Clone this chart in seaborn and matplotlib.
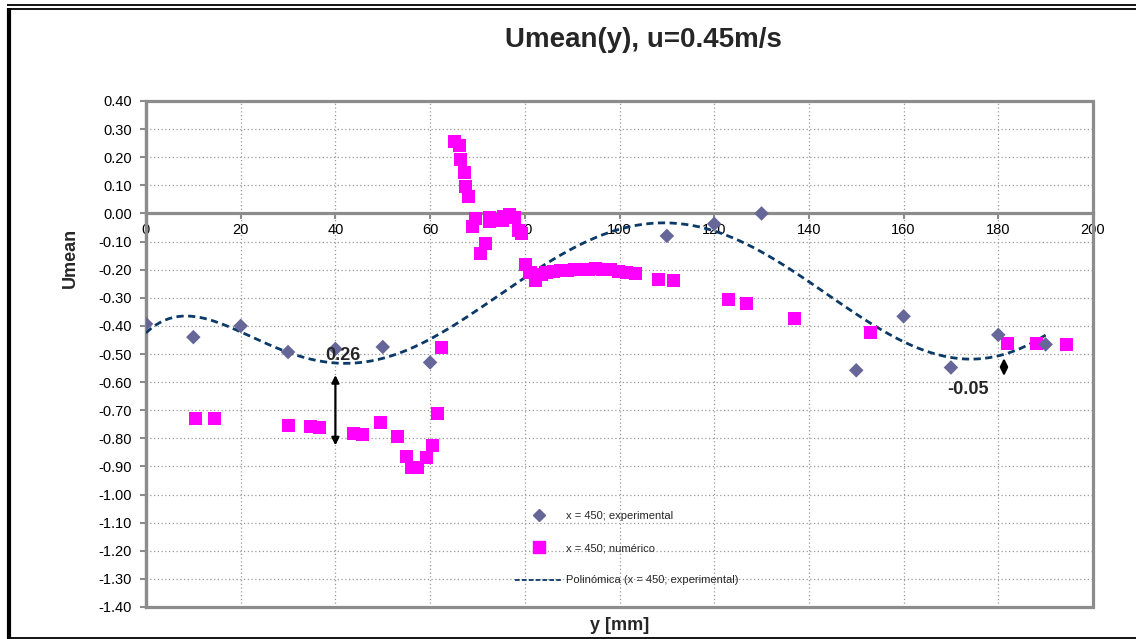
import numpy as np
import pandas as pd
import matplotlib
matplotlib.use("Agg")
import matplotlib.pyplot as plt
from matplotlib.lines import Line2D
from matplotlib.patches import Rectangle
import seaborn as sns

# Measured profile at x = 450
exp_y = [0, 10, 20, 30, 40, 50, 60, 110, 120, 130, 150, 160, 170, 180, 190]
exp_u = [-0.393, -0.44, -0.40, -0.493, -0.482, -0.475, -0.53, -0.08, -0.037, 0.0,
         -0.558, -0.366, -0.548, -0.432, -0.466]

# Simulated profile at x = 450
num_y = [10.4, 14.5, 30.1, 34.8, 36.7, 43.8, 45.8, 49.6, 53.1, 55.1, 56.1, 57.4,
         59.3, 60.5, 61.6, 62.4, 65.1, 66.2, 66.5, 67.2, 67.5, 68.1, 69.0, 69.5,
         70.7, 71.6, 72.5, 72.6, 74.0, 75.3, 75.5, 76.7, 77.9, 78.6, 79.3, 80.2,
         81.1, 82.2, 83.6, 84.6, 86.0, 87.5, 89.0, 90.5, 92.0, 93.5, 95.0, 96.5,
         98.0, 99.8, 101.5, 103.3, 108.3, 111.5, 123.0, 126.8, 137.0, 153.0,
         182.0, 188.0, 194.4]
num_u = [-0.730, -0.730, -0.755, -0.757, -0.762, -0.782, -0.785, -0.743, -0.794,
         -0.865, -0.905, -0.905, -0.868, -0.824, -0.711, -0.476, 0.256, 0.242,
         0.193, 0.145, 0.095, 0.062, -0.045, -0.017, -0.142, -0.106, -0.029,
         -0.014, -0.023, -0.025, -0.011, -0.005, -0.013, -0.059, -0.070, -0.183,
         -0.210, -0.237, -0.216, -0.210, -0.205, -0.202, -0.202, -0.201, -0.200,
         -0.198, -0.197, -0.198, -0.199, -0.205, -0.210, -0.215, -0.234, -0.240,
         -0.305, -0.322, -0.374, -0.424, -0.462, -0.462, -0.466]

x_ticks = list(range(0, 201, 20))
y_ticks = [round(v, 2) for v in np.arange(-1.4, 0.401, 0.1)]

lbl_exp = "x = 450; experimental"
lbl_num = "x = 450; numérico"
lbl_fit = "Polinómica (x = 450; experimental)"

# Gap annotations: (position, lower, upper, text, text_x, text_y)
gap1 = (40.0, -0.825, -0.575, "0.26", 41.5, -0.505)
gap2 = (181.2, -0.578, -0.515, "-0.05", 173.5, -0.625)

C_EXP = "#666699"
C_NUM = "#FF00FF"
C_FIT = "#0B3A68"
C_AX = "#8C8C8C"

sns.set_theme(style="white")
FONT = ["Liberation Sans Narrow", "Liberation Sans", "DejaVu Sans"]
plt.rcParams["font.family"] = FONT

W, H = 1136, 639
fig = plt.figure(figsize=(W / 100, H / 100), dpi=100)
L, R, T, B = 146, 1093, 101, 607
ax = fig.add_axes([L / W, 1 - B / H, (R - L) / W, (B - T) / H])

# 6th-order polynomial trend of the experimental data
coef = np.polyfit(exp_y, exp_u, 6)
fit_x = np.linspace(min(exp_y), max(exp_y), 400)
fit_df = pd.DataFrame({"y": fit_x, "u": np.polyval(coef, fit_x)})

sns.lineplot(data=fit_df, x="y", y="u", ax=ax, color=C_FIT, lw=2.0,
             linestyle=(0, (2.6, 1.6)), zorder=3)
sns.scatterplot(x=num_y, y=num_u, ax=ax, marker="s", color=C_NUM, s=88,
                edgecolor="none", zorder=4)
sns.scatterplot(x=exp_y, y=exp_u, ax=ax, marker="D", color=C_EXP, s=55,
                edgecolor="none", zorder=5)

ax.set_xlim(0, 200)
ax.set_ylim(-1.4, 0.4)
ax.set_xticks(x_ticks)
ax.set_yticks(y_ticks)
ax.set_yticklabels([f"{v:.2f}" for v in y_ticks])
ax.set_xticklabels([str(v) for v in x_ticks])

ax.grid(True, color="#9A9A9A", lw=0.9, linestyle=(0, (1, 2)))
ax.set_axisbelow(True)

# x axis crosses at zero
ax.spines["bottom"].set_position(("data", 0))
for s in ["bottom", "left"]:
    ax.spines[s].set_color(C_AX)
    ax.spines[s].set_linewidth(2.3)
    ax.spines[s].set_zorder(2)
for s in ["top", "right"]:
    ax.spines[s].set_visible(False)
ax.add_patch(Rectangle((0, 0), 1, 1, transform=ax.transAxes, fill=False,
                       ec=C_AX, lw=2.3, clip_on=False, zorder=2))

ax.tick_params(axis="both", which="both", direction="out", length=4,
               width=1.5, color=C_AX, labelsize=10.5, labelcolor="black")
ax.tick_params(axis="x", pad=3, bottom=True)
ax.tick_params(axis="y", pad=6, left=True)

ax.set_xlabel("")
ax.set_ylabel("")
fig.text(620 / W, 1 - 625 / H, "y [mm]", ha="center", va="center",
         fontsize=13, fontweight="bold")
fig.text(70 / W, 1 - 258 / H, "Umean", ha="center", va="center",
         rotation=90, fontsize=13, fontweight="bold")
fig.text(643 / W, 1 - 40 / H, "Umean(y), u=0.45m/s", ha="center",
         va="center", fontsize=20, fontweight="bold")

# gap arrows and labels
for xpos, lo, hi, txt, tx, ty in (gap1, gap2):
    ax.annotate("", xy=(xpos, lo), xytext=(xpos, hi),
                arrowprops=dict(arrowstyle="<|-|>", color="black", lw=1.6,
                                mutation_scale=11, shrinkA=0, shrinkB=0),
                zorder=6)
    ax.text(tx, ty, txt, ha="center", va="center", fontsize=13,
            fontweight="bold", zorder=7)

handles = [
    Line2D([], [], marker="D", color=C_EXP, linestyle="none", markersize=6),
    Line2D([], [], marker="s", color=C_NUM, linestyle="none", markersize=8),
    Line2D([], [], color=C_FIT, lw=1.3, linestyle=(0, (2.6, 1.2))),
]
leg = ax.legend(handles, [lbl_exp, lbl_num, lbl_fit], loc="upper left",
                bbox_to_anchor=((515 - L) / (R - L), (B - 511) / (B - T)),
                frameon=False, fontsize=8, labelspacing=2.0,
                handlelength=4.3, handletextpad=0.3, borderpad=0,
                borderaxespad=0)

# chart frame
def fline(xs, ys, lw):
    fig.add_artist(Line2D([x / W for x in xs], [1 - y / H for y in ys],
                          color="black", lw=lw, solid_capstyle="butt"))

fline([7, W], [5, 5], 1.3)
fline([9, W], [8.5, 8.5], 1.3)
fline([9, 9], [7.5, H], 3.0)
fline([7, W], [638, 638], 1.3)

fig.savefig("out.png", dpi=100, facecolor="white")
